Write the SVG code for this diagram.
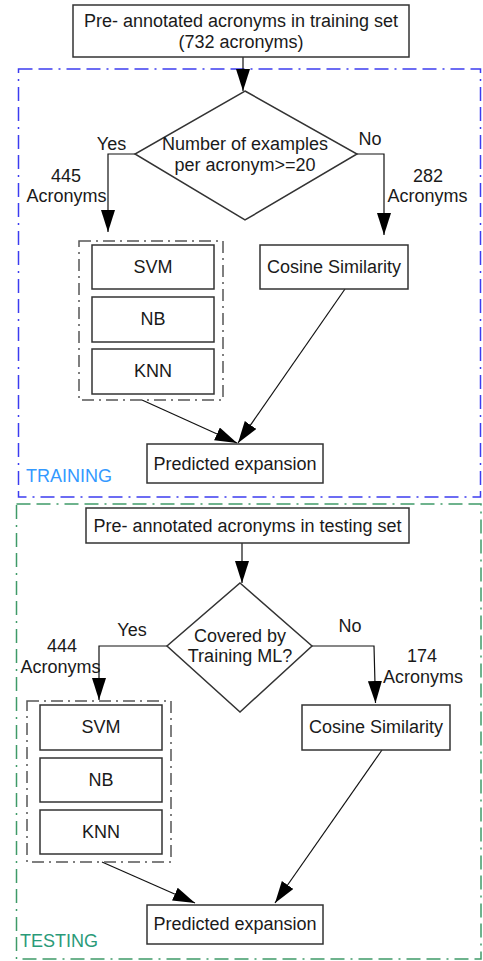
<svg xmlns="http://www.w3.org/2000/svg" width="483" height="961" viewBox="0 0 483 961">
  <style>
    text { font-family: "Liberation Sans", Arial, sans-serif; font-size: 18px; fill: #1a1a1a; }
    .c { text-anchor: middle; }
    .box { fill: #ffffff; stroke: #333333; stroke-width: 1.5; }
    .group { fill: none; stroke: #555555; stroke-width: 1.5; stroke-dasharray: 12 5 2 5; }
    .train { fill: none; stroke: #3c3cf0; stroke-width: 1.5; stroke-dasharray: 14 6 14 6 2 6; }
    .test { fill: none; stroke: #3f9a68; stroke-width: 1.5; stroke-dasharray: 14 6 14 6 2 6; }
    .edge { fill: none; stroke: #111111; stroke-width: 1.2; marker-end: url(#arrow); }
  </style>
  <defs>
    <marker id="arrow" markerUnits="userSpaceOnUse" markerWidth="24" markerHeight="16" refX="22" refY="7" orient="auto">
      <path d="M0,0 L22,7 L0,14 Z" fill="#000000"/>
    </marker>
  </defs>
  <rect width="483" height="961" fill="#ffffff"/>

  <!-- phase frames -->
  <g id="training-frame">
    <rect class="train" x="18.5" y="69" width="462" height="428"/>
    <text x="26" y="482" style="fill:#3399ff">TRAINING</text>
  </g>
  <g id="testing-frame">
    <rect class="test" x="16.5" y="504" width="464.5" height="455"/>
    <text x="20" y="947" style="fill:#2a9a78">TESTING</text>
  </g>

  <!-- connectors -->
  <g id="connectors">
    <path class="edge" d="M243,57 V91"/>
    <path class="edge" d="M135,154 H108 V232"/>
    <path class="edge" d="M357,154 H384 V235"/>
    <path class="edge" d="M142,400 L237,443"/>
    <path class="edge" d="M345,289 L238,443"/>

    <path class="edge" d="M242,543 V583"/>
    <path class="edge" d="M167,646 H99 V700"/>
    <path class="edge" d="M312,646 H374 L375.5,703"/>
    <path class="edge" d="M102,862 L195,903"/>
    <path class="edge" d="M382,750 L275,903"/>
  </g>

  <!-- connector labels -->
  <g id="edge-labels">
    <text class="c" x="111.5" y="150">Yes</text>
    <text class="c" x="66" y="182">445</text>
    <text class="c" x="66.5" y="202">Acronyms</text>
    <text class="c" x="370" y="145">No</text>
    <text class="c" x="428" y="182">282</text>
    <text class="c" x="427.5" y="202">Acronyms</text>

    <text class="c" x="132" y="636">Yes</text>
    <text class="c" x="62" y="652">444</text>
    <text class="c" x="60.5" y="673">Acronyms</text>
    <text class="c" x="350" y="632">No</text>
    <text class="c" x="422" y="662">174</text>
    <text class="c" x="423" y="683">Acronyms</text>
  </g>

  <!-- training flow -->
  <g id="train-input">
    <rect class="box" x="73" y="5" width="336" height="52"/>
    <text class="c" x="241" y="27">Pre- annotated acronyms in training set</text>
    <text class="c" x="241" y="48">(732 acronyms)</text>
  </g>
  <g id="train-decision">
    <polygon class="box" points="245,91 357,154 245,220 135,154"/>
    <text class="c" x="245" y="150">Number of examples</text>
    <text class="c" x="245" y="171">per acronym&gt;=20</text>
  </g>
  <g id="train-ml">
    <rect class="group" x="79" y="241" width="144" height="159"/>
  </g>
  <g id="train-svm">
    <rect class="box" x="92" y="245" width="122" height="44"/>
    <text class="c" x="153" y="273">SVM</text>
  </g>
  <g id="train-nb">
    <rect class="box" x="92" y="297" width="122" height="45"/>
    <text class="c" x="153" y="325">NB</text>
  </g>
  <g id="train-knn">
    <rect class="box" x="92" y="349" width="122" height="45"/>
    <text class="c" x="153" y="377">KNN</text>
  </g>
  <g id="train-cosine">
    <rect class="box" x="260" y="245" width="148" height="44"/>
    <text class="c" x="334" y="273">Cosine Similarity</text>
  </g>
  <g id="train-output">
    <rect class="box" x="147" y="444" width="176" height="39"/>
    <text class="c" x="235" y="470">Predicted expansion</text>
  </g>

  <!-- testing flow -->
  <g id="test-input">
    <rect class="box" x="86" y="508" width="323" height="35"/>
    <text class="c" x="247.5" y="532">Pre- annotated acronyms in testing set</text>
  </g>
  <g id="test-decision">
    <polygon class="box" points="240,583 312,646 240,712 167,646"/>
    <text class="c" x="240" y="642">Covered by</text>
    <text class="c" x="240" y="662">Training ML?</text>
  </g>
  <g id="test-ml">
    <rect class="group" x="27" y="701" width="144" height="161"/>
  </g>
  <g id="test-svm">
    <rect class="box" x="40" y="705" width="122" height="45"/>
    <text class="c" x="101" y="733">SVM</text>
  </g>
  <g id="test-nb">
    <rect class="box" x="40" y="758" width="122" height="44"/>
    <text class="c" x="101" y="786">NB</text>
  </g>
  <g id="test-knn">
    <rect class="box" x="40" y="810" width="122" height="44"/>
    <text class="c" x="101" y="838">KNN</text>
  </g>
  <g id="test-cosine">
    <rect class="box" x="302" y="705" width="148" height="45"/>
    <text class="c" x="376" y="733">Cosine Similarity</text>
  </g>
  <g id="test-output">
    <rect class="box" x="147" y="905" width="176" height="39"/>
    <text class="c" x="235" y="930">Predicted expansion</text>
  </g>
</svg>
